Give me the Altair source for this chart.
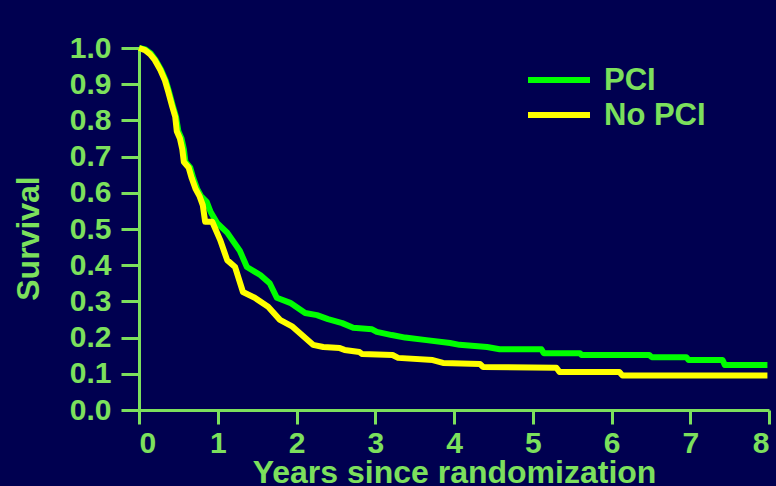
import altair as alt
import pandas as pd

# PCI arm (green)
pci_t = [0, 0.08, 0.15, 0.21, 0.28, 0.34, 0.38, 0.43, 0.47, 0.50, 0.54, 0.57, 0.59, 0.65, 0.69, 0.74, 0.79,
         0.86, 0.91, 0.99, 1.12, 1.28, 1.37, 1.54, 1.66, 1.75, 1.92, 2.11, 2.26, 2.40, 2.58, 2.72, 2.96,
         3.02, 3.21, 3.38, 3.65, 3.95, 4.07, 4.42, 4.58, 5.11, 5.14, 5.60, 5.62, 6.48, 6.51, 6.95, 6.98,
         7.41, 7.44, 7.98]
pci_s = [1.0, 0.996, 0.985, 0.967, 0.94, 0.91, 0.88, 0.84, 0.81, 0.77, 0.75, 0.72, 0.685, 0.67, 0.64, 0.61, 0.59,
         0.575, 0.547, 0.517, 0.49, 0.44, 0.395, 0.373, 0.35, 0.31, 0.296, 0.268, 0.262, 0.251, 0.24, 0.227, 0.223,
         0.216, 0.207, 0.2, 0.193, 0.185, 0.18, 0.174, 0.168, 0.168, 0.157, 0.157, 0.152, 0.152, 0.146, 0.146, 0.138,
         0.138, 0.124, 0.124]

# No PCI arm (yellow)
nopci_t = [0, 0.076, 0.14, 0.20, 0.27, 0.33, 0.37, 0.42, 0.46, 0.48, 0.52, 0.55, 0.57, 0.63, 0.67, 0.72, 0.77,
           0.81, 0.84, 0.93, 1.03, 1.12, 1.22, 1.32, 1.47, 1.64, 1.79, 1.95, 2.21, 2.34, 2.55, 2.61, 2.80,
           2.83, 3.22, 3.29, 3.73, 3.86, 4.33, 4.37, 5.30, 5.34, 6.10, 6.14, 7.98]
nopci_s = [1.0, 0.994, 0.983, 0.967, 0.94, 0.91, 0.88, 0.84, 0.81, 0.77, 0.75, 0.72, 0.685, 0.67, 0.64, 0.61, 0.59,
           0.566, 0.52, 0.52, 0.47, 0.414, 0.395, 0.326, 0.31, 0.285, 0.249, 0.23, 0.18, 0.174, 0.171, 0.166, 0.16,
           0.155, 0.152, 0.144, 0.138, 0.13, 0.127, 0.119, 0.117, 0.105, 0.105, 0.095, 0.095]

groups = ["PCI", "No PCI"]
colors = ["#00FF00", "#FFFF00"]
x_ticks = [0, 1, 2, 3, 4, 5, 6, 7, 8]
y_ticks = [0.0, 0.1, 0.2, 0.3, 0.4, 0.5, 0.6, 0.7, 0.8, 0.9, 1.0]

df = pd.concat([
    pd.DataFrame({"t": pci_t, "s": pci_s, "group": "PCI", "o": range(len(pci_t))}),
    pd.DataFrame({"t": nopci_t, "s": nopci_s, "group": "No PCI", "o": range(len(nopci_t))}),
], ignore_index=True)

legend_df = pd.DataFrame({"group": groups, "row": [0, 1]})

GREEN_TXT = "#7CE05C"
FONT = "Liberation Sans"

color_scale = alt.Scale(domain=groups, range=colors)

x_enc = alt.X("t:Q", scale=alt.Scale(domain=[0, 8], nice=False, zero=False),
              axis=alt.Axis(values=x_ticks, format="d", title="Years since randomization",
                            tickSize=14, labelPadding=4, titleY=72, titleBaseline="alphabetic"))
y_enc = alt.Y("s:Q", scale=alt.Scale(domain=[0, 1], nice=False),
              axis=alt.Axis(values=y_ticks, format=".1f", title="Survival",
                            tickSize=18, labelPadding=10, titleX=-101, titleY=190,
                            titleAngle=270, titleAlign="center", titleBaseline="alphabetic"))
color_enc = alt.Color("group:N", scale=color_scale, legend=None)

base = alt.Chart(df)
green = base.transform_filter(alt.datum.group == "PCI").mark_line(strokeWidth=6, strokeJoin="round").encode(
    x=x_enc, y=y_enc, color=color_enc, order="o:Q")
yellow = base.transform_filter(alt.datum.group == "No PCI").mark_line(strokeWidth=6, strokeJoin="round").encode(
    x=x_enc, y=y_enc, color=color_enc, order="o:Q")

# manual legend (pixel layout relative to plot area)
leg = alt.Chart(legend_df).transform_calculate(ypix="32 + datum.row * 35")
leg_lines = leg.mark_rule(strokeWidth=6).encode(
    x=alt.value(389), x2=alt.value(451),
    y=alt.Y("ypix:Q", scale=None),
    color=alt.Color("group:N", scale=color_scale, legend=None))
leg_text = leg.mark_text(align="left", baseline="middle", font=FONT, fontSize=31,
                         fontWeight="bold", color=GREEN_TXT, dy=1).encode(
    x=alt.value(465), y=alt.Y("ypix:Q", scale=None), text="group:N")

chart = alt.layer(green, yellow, leg_lines, leg_text).properties(
    width=630, height=362,
    padding={"left": 139, "top": 48, "right": 7, "bottom": 76},
    autosize=alt.AutoSizeParams(type="none"),
    background="#000050",
).configure_view(stroke=None).configure_axis(
    grid=False,
    domainColor=GREEN_TXT, domainWidth=3,
    tickColor=GREEN_TXT, tickWidth=3,
    labelColor=GREEN_TXT, labelFont=FONT, labelFontSize=30, labelFontWeight="bold",
    titleColor=GREEN_TXT, titleFont=FONT, titleFontSize=32, titleFontWeight="bold",
)

chart.save("out.html", embed_options={"renderer": "svg", "actions": False})
